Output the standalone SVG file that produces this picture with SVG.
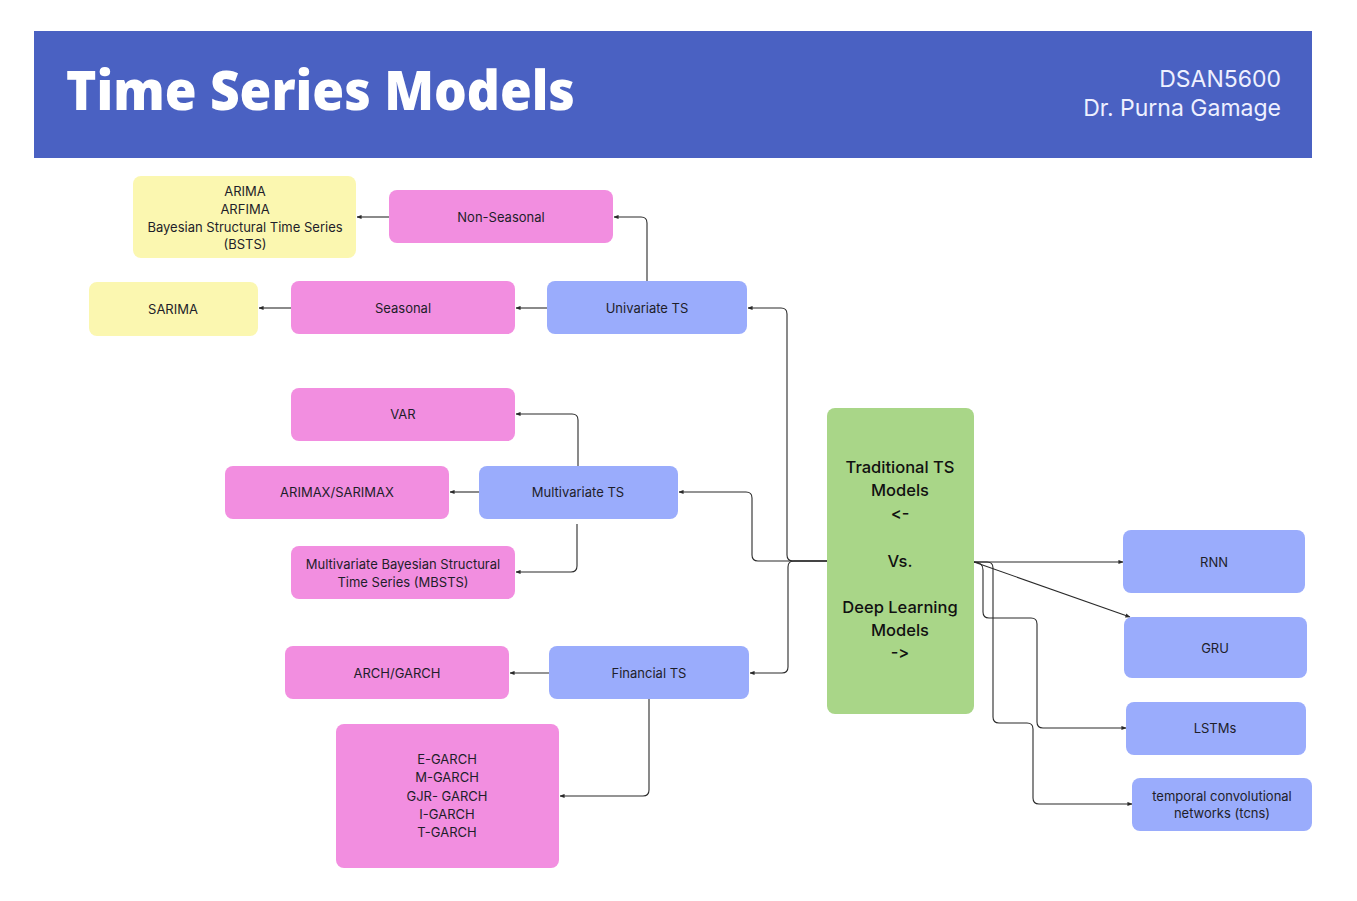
<svg xmlns="http://www.w3.org/2000/svg" width="1357" height="901" viewBox="0 0 1357 901">
<style>
.t{font-family:Inter,"Noto Sans","Liberation Sans",sans-serif;font-size:13px;fill:#1e1e2a;text-anchor:middle}
.g{font-family:Inter,"Noto Sans","Liberation Sans",sans-serif;font-size:16.5px;font-weight:500;fill:#111;text-anchor:middle;font-feature-settings:"calt" 0,"liga" 0;font-variant-ligatures:none}
.pink{fill:#f28ee0}
.blue{fill:#9aacfc}
.yel{fill:#fbf7b0}
.c{fill:none;stroke:#2a2a2a;stroke-width:1.1;marker-end:url(#ah)}
</style>
<defs>
<marker id="ah" viewBox="0 0 6 6" refX="5.5" refY="3" markerWidth="5" markerHeight="5" orient="auto" markerUnits="userSpaceOnUse">
<path d="M0,0.5 L6,3 L0,5.5 Z" fill="#2a2a2a"/>
</marker>
</defs>
<rect width="1357" height="901" fill="#ffffff"/>
<g id="header">
<rect x="34" y="31" width="1278" height="127" fill="#4a61c2"/>
<text x="66" y="110" font-family="'Open Sans','Noto Sans',sans-serif" font-weight="800" font-size="55" fill="#ffffff" textLength="509" lengthAdjust="spacingAndGlyphs">Time Series Models</text>
<text x="1281" y="87" font-family="Inter,'Noto Sans',sans-serif" font-size="23" fill="#eef0ff" text-anchor="end">DSAN5600</text>
<text x="1281" y="116" font-family="Inter,'Noto Sans',sans-serif" font-size="23" fill="#eef0ff" text-anchor="end">Dr. Purna Gamage</text>
</g>
<g id="connectors">
<path class="c" d="M647,281 V223 Q647,217 641,217 H614"/>
<path class="c" d="M547,308 H516"/>
<path class="c" d="M291,308 H259"/>
<path class="c" d="M389,217 H357"/>
<path class="c" d="M827,561 H793 Q787,561 787,555 V314 Q787,308 781,308 H748"/>
<path class="c" d="M827,561 H758 Q752,561 752,555 V498 Q752,492 746,492 H679"/>
<path class="c" d="M827,561 H794 Q788,561 788,567 V667 Q788,673 782,673 H750"/>
<path class="c" d="M578,466 V420 Q578,414 572,414 H516"/>
<path class="c" d="M479,492 H450"/>
<path class="c" d="M577,524 V566 Q577,572 571,572 H516"/>
<path class="c" d="M549,673 H510"/>
<path class="c" d="M649,699 V790 Q649,796 643,796 H560"/>
<path class="c" d="M974,562 H1123"/>
<path class="c" d="M974,562 L1130,617"/>
<path class="c" d="M974,562 Q983,562 983,570 V612 Q983,618 989,618 H1031 Q1037,618 1037,624 V722 Q1037,728 1043,728 H1126"/>
<path class="c" d="M974,562 H987 Q993,562 993,568 V717 Q993,723 999,723 H1027 Q1033,723 1033,729 V798 Q1033,804 1039,804 H1132"/>
</g>
<g id="n-arima"><rect class="yel" x="133" y="176" width="223" height="82" rx="8"/>
<text class="t" x="245" y="196">ARIMA</text><text class="t" x="245" y="214">ARFIMA</text><text class="t" x="245" y="232">Bayesian Structural Time Series</text><text class="t" x="245" y="249">(BSTS)</text></g>
<g id="n-nonseasonal"><rect class="pink" x="389" y="190" width="224" height="53" rx="8"/><text class="t" x="501" y="222">Non-Seasonal</text></g>
<g id="n-sarima"><rect class="yel" x="89" y="282" width="169" height="54" rx="8"/><text class="t" x="173" y="314">SARIMA</text></g>
<g id="n-seasonal"><rect class="pink" x="291" y="281" width="224" height="53" rx="8"/><text class="t" x="403" y="313">Seasonal</text></g>
<g id="n-univariate"><rect class="blue" x="547" y="281" width="200" height="53" rx="8"/><text class="t" x="647" y="313">Univariate TS</text></g>
<g id="n-var"><rect class="pink" x="291" y="388" width="224" height="53" rx="8"/><text class="t" x="403" y="419">VAR</text></g>
<g id="n-arimax"><rect class="pink" x="225" y="466" width="224" height="53" rx="8"/><text class="t" x="337" y="497">ARIMAX/SARIMAX</text></g>
<g id="n-multivariate"><rect class="blue" x="479" y="466" width="199" height="53" rx="8"/><text class="t" x="578" y="497">Multivariate TS</text></g>
<g id="n-mbsts"><rect class="pink" x="291" y="546" width="224" height="53" rx="8"/><text class="t" x="403" y="569">Multivariate Bayesian Structural</text><text class="t" x="403" y="587">Time Series (MBSTS)</text></g>
<g id="n-arch"><rect class="pink" x="285" y="646" width="224" height="53" rx="8"/><text class="t" x="397" y="678">ARCH/GARCH</text></g>
<g id="n-financial"><rect class="blue" x="549" y="646" width="200" height="53" rx="8"/><text class="t" x="649" y="678">Financial TS</text></g>
<g id="n-garch"><rect class="pink" x="336" y="724" width="223" height="144" rx="8"/>
<text class="t" x="447" y="764">E-GARCH</text><text class="t" x="447" y="782">M-GARCH</text><text class="t" x="447" y="801">GJR- GARCH</text><text class="t" x="447" y="819">I-GARCH</text><text class="t" x="447" y="837">T-GARCH</text></g>
<g id="n-center"><rect fill="#a9d688" x="827" y="408" width="147" height="306" rx="8"/>
<text class="g" x="900" y="473">Traditional TS</text><text class="g" x="900" y="496">Models</text><text class="g" x="900" y="519" font-size="13">&lt;-</text>
<text class="g" x="900" y="567">Vs.</text>
<text class="g" x="900" y="613">Deep Learning</text><text class="g" x="900" y="636">Models</text><text class="g" x="900" y="658" font-size="13">-&gt;</text></g>
<g id="n-rnn"><rect class="blue" x="1123" y="530" width="182" height="63" rx="8"/><text class="t" x="1214" y="567">RNN</text></g>
<g id="n-gru"><rect class="blue" x="1124" y="617" width="183" height="61" rx="8"/><text class="t" x="1215" y="653">GRU</text></g>
<g id="n-lstm"><rect class="blue" x="1126" y="702" width="180" height="53" rx="8"/><text class="t" x="1215" y="733">LSTMs</text></g>
<g id="n-tcn"><rect class="blue" x="1132" y="778" width="180" height="53" rx="8"/><text class="t" x="1222" y="801">temporal convolutional</text><text class="t" x="1222" y="818">networks (tcns)</text></g>
</svg>
